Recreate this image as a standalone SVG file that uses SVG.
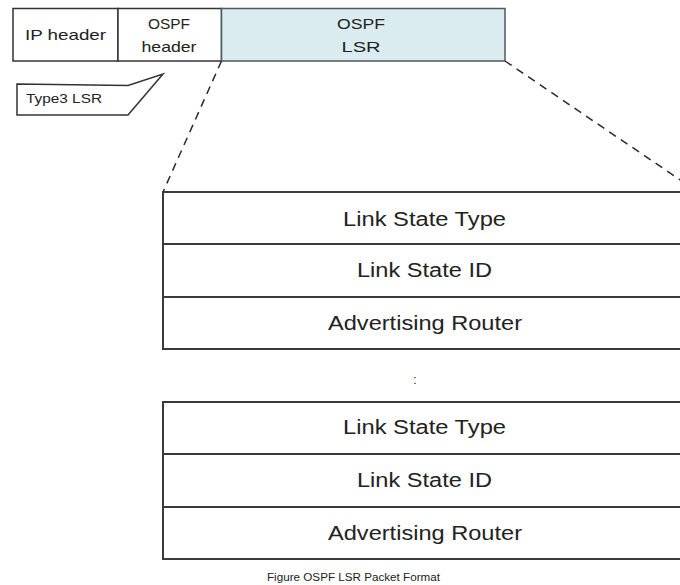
<svg xmlns="http://www.w3.org/2000/svg" width="680" height="585" viewBox="0 0 680 585">
  <style>
    .box { fill: #ffffff; stroke: #333333; stroke-width: 1.5; }
    .lsr { fill: #daecf0; stroke: #4a5a5e; stroke-width: 1.5; }
    .row { fill: #ffffff; stroke: #3a3a3a; stroke-width: 2; }
    .t { font-family: "Liberation Sans", Arial, sans-serif; fill: #222222; text-anchor: middle; }
    .hdr { font-size: 15px; }
    .fld { font-size: 19.5px; }
    .dash { fill: none; stroke: #2a2a2a; stroke-width: 1.5; stroke-dasharray: 8 6; }
  </style>

  <!-- packet header strip -->
  <g id="ip-header">
    <rect class="box" x="13" y="8.5" width="105" height="52.5"/>
    <text class="t hdr" x="65.5" y="40" textLength="81" lengthAdjust="spacingAndGlyphs">IP header</text>
  </g>
  <g id="ospf-header">
    <rect class="box" x="118" y="8.5" width="103.5" height="52.5"/>
    <text class="t hdr" x="169" y="29" textLength="42" lengthAdjust="spacingAndGlyphs">OSPF</text>
    <text class="t hdr" x="169" y="52" textLength="55" lengthAdjust="spacingAndGlyphs">header</text>
  </g>
  <g id="ospf-lsr">
    <rect class="lsr" x="221.5" y="8.5" width="283.5" height="52.5"/>
    <text class="t hdr" x="361" y="29" textLength="48" lengthAdjust="spacingAndGlyphs">OSPF</text>
    <text class="t hdr" x="361" y="52" textLength="39" lengthAdjust="spacingAndGlyphs">LSR</text>
  </g>

  <!-- callout -->
  <g id="type3-callout">
    <path class="box" d="M17,84 L128,85.5 L163,74 L128,115 L17,115 Z" stroke-linejoin="miter"/>
    <text class="t" x="64" y="103" font-size="12.5" textLength="76" lengthAdjust="spacingAndGlyphs">Type3 LSR</text>
  </g>

  <!-- expansion guides -->
  <g id="connectors">
    <line class="dash" x1="221.5" y1="61" x2="163" y2="192"/>
    <line class="dash" x1="505" y1="61" x2="698" y2="192"/>
  </g>

  <!-- first request entry -->
  <g id="entry-1">
    <rect class="row" x="163" y="192" width="540" height="52"/>
    <rect class="row" x="163" y="244" width="540" height="53"/>
    <rect class="row" x="163" y="297" width="540" height="52"/>
    <text class="t fld" x="424.5" y="226" textLength="163" lengthAdjust="spacingAndGlyphs">Link State Type</text>
    <text class="t fld" x="424.5" y="277" textLength="135" lengthAdjust="spacingAndGlyphs">Link State ID</text>
    <text class="t fld" x="425" y="330" textLength="194" lengthAdjust="spacingAndGlyphs">Advertising Router</text>
  </g>

  <text class="t" x="415" y="384" font-size="12">:</text>

  <!-- last request entry -->
  <g id="entry-n">
    <rect class="row" x="163" y="402" width="540" height="52"/>
    <rect class="row" x="163" y="454" width="540" height="53"/>
    <rect class="row" x="163" y="507" width="540" height="52"/>
    <text class="t fld" x="424.5" y="434" textLength="163" lengthAdjust="spacingAndGlyphs">Link State Type</text>
    <text class="t fld" x="424.5" y="487" textLength="135" lengthAdjust="spacingAndGlyphs">Link State ID</text>
    <text class="t fld" x="425" y="540" textLength="194" lengthAdjust="spacingAndGlyphs">Advertising Router</text>
  </g>

  <text class="t" x="353.5" y="581" font-size="10" textLength="173" lengthAdjust="spacingAndGlyphs">Figure OSPF LSR Packet Format</text>
</svg>
